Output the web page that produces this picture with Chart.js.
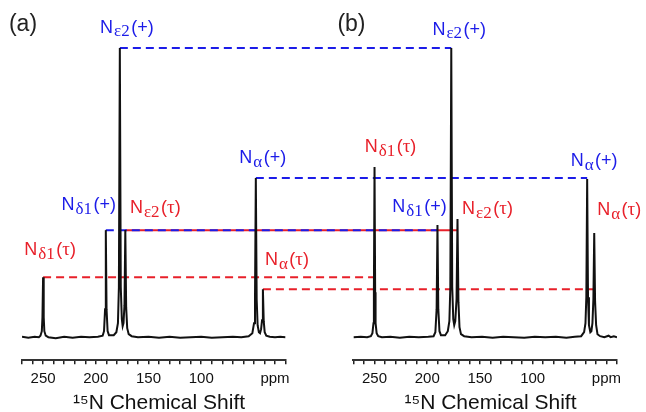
<!DOCTYPE html>
<html>
<head>
<meta charset="utf-8">
<script src="https://cdn.jsdelivr.net/npm/chart.js@4.4.1/dist/chart.umd.min.js"></script>
<style>
  body { margin: 0; background: #fff; }
  canvas { display: block; }
</style>
</head>
<body>
<canvas id="nmr" width="646" height="412"></canvas>
<script>
// sites, same order in both spectra: Nδ1(τ), Nδ1(+), Nε2(+), Nε2(τ), Nα(+), Nα(τ)
const peakSub = ['δ1', 'δ1', 'ε2', 'ε2', 'α', 'α'];
const peakTag = ['τ', '+', '+', 'τ', '+', 'τ'];

// (a)
const shiftA = [250, 190.5, 177.2, 172, 48.2, 41.5];
const heightA = [60, 107, 289, 107, 159, 48];
// (b)
const shiftB = [250, 190.3, 177.2, 171.3, 48.3, 41.6];
const heightB = [170, 112, 289, 118, 158, 104];

// baseline and peak flanks [ppm, intensity]; the tops come from the arrays above
const traceA = [
  [270, 0.5], [264, -0.5], [258, 0.5], [254, 0], [252.5, 1.5], [251.2, 6], [250.6, 20],
  [249.4, 20], [248.8, 6], [247.5, 1.5], [245, 0], [238, -1], [230, 0.5], [222, -0.5],
  [214, 0.5], [206, 0], [198, 0.5], [193.5, 1.5], [192.2, 6], [191.2, 28], [189.8, 28],
  [188.8, 6], [187.5, 2], [183, 2], [180.5, 5], [179, 14], [178.1, 50], [176.3, 50],
  [175.3, 18], [174.5, 11], [173.7, 14], [172.8, 32], [171.2, 30], [170.2, 9], [168.8, 3],
  [166, 1], [160, 0], [150, 0.5], [140, -0.5], [130, 0.5], [120, -0.5], [110, 0],
  [100, 0.5], [90, -0.5], [80, 0], [70, 0.5], [62, 0], [55, 1], [51.5, 4], [49.9, 14],
  [49, 38], [47.4, 38], [46.5, 12], [45.3, 5], [44.2, 4], [43.2, 8], [42.3, 17],
  [40.7, 16], [39.8, 5], [38.3, 1.5], [35, 0.5], [30, 0], [25, 0.5], [20, 0]
];
const traceB = [
  [270, 0], [263, 0.5], [257, 0], [253.5, 1], [252, 4], [251, 14], [250.6, 45],
  [249.4, 45], [249, 14], [248, 4], [246.5, 1], [243, 0], [235, 0.5], [226, -0.5],
  [217, 0.5], [208, 0], [199, 0.5], [194, 1], [192.3, 5], [191.1, 28], [189.5, 28],
  [188.4, 6], [187, 2], [183, 2], [180.5, 6], [179, 16], [178.1, 50], [176.3, 50],
  [175.3, 18], [174.4, 12], [173.4, 16], [172.2, 38], [170.4, 35], [169.4, 10], [168, 3],
  [165, 1], [158, 0], [148, 0.5], [138, -0.5], [128, 0.5], [118, 0], [108, -0.5],
  [98, 0.5], [88, 0], [78, 0.5], [68, -0.5], [60, 0.5], [54, 1], [51.2, 5], [49.9, 14],
  [49.1, 40], [47.5, 40], [46.6, 12], [45.3, 5], [44.3, 6], [43.3, 14], [42.4, 38],
  [40.8, 36], [39.8, 12], [38.5, 3], [36, 1], [32, 0], [28, 1.5], [26, 0], [23, 1], [20, 0]
];

const tickValues = [250, 200, 150, 100, 30];
const tickText = ['250', '200', '150', '100', 'ppm'];

const BLUE = '#1c1ce8';
const RED = '#e8202a';
const SANS = '"Liberation Sans", Arial, sans-serif';
const SERIF = '"Liberation Serif", "Times New Roman", serif';

Chart.defaults.font.family = SANS;

function withTops(trace, shifts, heights) {
  return trace.concat(shifts.map((s, i) => [s, heights[i]])).sort((p, q) => q[0] - p[0]);
}

function ppmAxis() {
  return {
    type: 'linear',
    axis: 'x',
    position: 'bottom',
    stack: 'shift',
    stackWeight: 264,
    min: 20,
    max: 270,
    reverse: true,
    grid: { display: true, drawOnChartArea: false, drawTicks: true, tickLength: 4, color: '#222', lineWidth: 1.5 },
    border: { display: true, color: '#333', width: 2 },
    ticks: {
      stepSize: 10,
      autoSkip: false,
      maxRotation: 0,
      padding: 6,
      color: '#111',
      font: { size: 15 },
      callback: v => {
        const i = tickValues.indexOf(v);
        return i < 0 ? '' : tickText[i];
      }
    },
    title: {
      display: true,
      text: '\u2002¹⁵N Chemical Shift',
      color: '#111',
      font: { size: 21, lineHeight: 0.8 },
      padding: { top: 1, bottom: 0 }
    }
  };
}

// one label like Nε2(+): N, serif subscript, then the bracketed tag
function drawSiteLabel(ctx, cx, cy, sub, tag, color) {
  const parts = [
    ['N', '18px ' + SANS, 0, 1],
    [sub, '17px ' + SERIF, 4, 1.5],
    ['(', '18px ' + SANS, 0, 0],
    [tag, tag === '+' ? '18px ' + SANS : '19px ' + SERIF, 0, 0],
    [')', '18px ' + SANS, 0, 0]
  ];
  let total = 0;
  parts.forEach(p => {
    ctx.font = p[1];
    p.push(ctx.measureText(p[0]).width + p[3]);
    total += p[4];
  });
  let x = cx - total / 2;
  ctx.fillStyle = color;
  ctx.textAlign = 'left';
  ctx.textBaseline = 'middle';
  parts.forEach(p => {
    ctx.font = p[1];
    ctx.fillText(p[0], x, cy + p[2]);
    x += p[4];
  });
}

const labelOffsetA = [[7, -27], [-17, -25], [7, -20], [30, -22], [7, -20], [24, -29]];
const labelOffsetB = [[16, -20], [-18, -18], [8, -18], [30, -10], [7, -18], [25, -23]];

const connectorPlugin = {
  id: 'connectors',
  beforeDatasetsDraw(chart) {
    const { ctx } = chart;
    const xa = chart.scales.xa, xb = chart.scales.xb, y = chart.scales.y;
    const order = [3, 0, 5, 1, 2, 4];
    ctx.save();
    ctx.lineWidth = 2;
    order.forEach(i => {
      const py = y.getPixelForValue(heightA[i]);
      ctx.strokeStyle = peakTag[i] === '+' ? BLUE : RED;
      ctx.setLineDash(i === 3 ? [] : [8, 5]);
      ctx.beginPath();
      ctx.moveTo(xa.getPixelForValue(shiftA[i]), py);
      ctx.lineTo(xb.getPixelForValue(shiftB[i]), py);
      ctx.stroke();
    });
    ctx.restore();
  },
  afterDatasetsDraw(chart) {
    const { ctx } = chart;
    const xa = chart.scales.xa, xb = chart.scales.xb, y = chart.scales.y;
    ctx.save();
    peakSub.forEach((sub, i) => {
      const color = peakTag[i] === '+' ? BLUE : RED;
      drawSiteLabel(ctx, xa.getPixelForValue(shiftA[i]) + labelOffsetA[i][0],
        y.getPixelForValue(heightA[i]) + labelOffsetA[i][1], sub, peakTag[i], color);
      drawSiteLabel(ctx, xb.getPixelForValue(shiftB[i]) + labelOffsetB[i][0],
        y.getPixelForValue(heightB[i]) + labelOffsetB[i][1], sub, peakTag[i], color);
    });
    ctx.fillStyle = '#222';
    ctx.font = '23px ' + SANS;
    ctx.textAlign = 'center';
    ctx.textBaseline = 'middle';
    ctx.fillText('(a)', xa.left + 1, 25);
    ctx.fillText('(b)', xb.left - 2, 25);
    ctx.restore();
  }
};

new Chart(document.getElementById('nmr'), {
  type: 'scatter',
  data: {
    datasets: [
      { data: withTops(traceA, shiftA, heightA), xAxisID: 'xa', yAxisID: 'y' },
      { data: withTops(traceB, shiftB, heightB), xAxisID: 'xb', yAxisID: 'y' }
    ]
  },
  options: {
    responsive: false,
    animation: false,
    showLine: true,
    layout: { padding: { left: 22, right: 29, top: 8, bottom: 0 } },
    elements: {
      point: { radius: 0, hoverRadius: 0 },
      line: { borderColor: '#111', borderWidth: 2, tension: 0 }
    },
    scales: {
      xa: ppmAxis(),
      // empty strip between the two spectra
      xgap: {
        type: 'linear', axis: 'x', position: 'bottom', stack: 'shift', stackWeight: 68,
        grid: { display: false }, border: { display: false }, ticks: { display: false }
      },
      xb: ppmAxis(),
      y: { display: false, min: -23, max: 329 }
    },
    plugins: {
      legend: { display: false },
      tooltip: { enabled: false }
    }
  },
  plugins: [connectorPlugin]
});
</script>
</body>
</html>
